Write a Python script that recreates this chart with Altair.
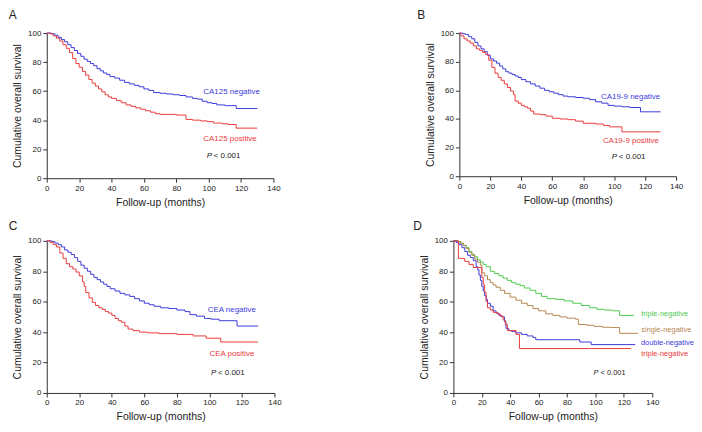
import altair as alt
import pandas as pd

# ---------------- data ----------------
# Panel A: CA125
A_neg_t = [0,3,5,7,9,11,13,15,17,19,21,23,25,27,29,31,33,35,37,39,42,45,48,51,54,57,60,63,66,70,74,78,82,86,90,93,96,99,102,105,110,117,130]
A_neg_s = [100,99.5,98.5,97,95.5,94,92,90,88,86,84,82,80.5,79,77.5,75.5,74,72.5,71.5,70,69,67.5,66,65,64,63,61.5,60.5,59,58.5,58,57.5,57,56,55,54.5,53,52,51.5,50.5,50,48,48]
A_pos_t = [0,2,4,6,8,10,12,14,16,18,20,22,24,26,28,30,32,34,36,38,40,43,46,49,52,55,58,61,64,67,70,75,80,86,90,95,99,103,108,112,117,130]
A_pos_s = [100,99.5,98,96.5,94.5,92,89.5,86.5,82.5,79,76.5,73.5,71,68,65.5,63.5,61.5,59.5,57.5,56,55,53.5,52,50.5,49.5,48.5,47.5,46.5,45.5,44.5,44,44,43.5,40.5,40,39.5,39,38,37.5,37,34.5,34.5]

# Panel B: CA19-9
B_neg_t = [0,2,4,6,8,10,12,14,16,18,20,22,24,26,28,30,32,34,36,38,40,43,46,49,52,55,58,61,64,67,70,75,80,84,88,92,96,100,105,110,117,130]
B_neg_s = [100,99.5,99,97.5,96,93.5,91,89,87,84.5,82,80.5,79,77,75,73,72,71,70,69,67.5,66,64.5,63,61.5,60,59,58,57,56,55.5,55,54.5,53.5,52,51,49.5,49,48.5,48,45,45]
B_pos_t = [0,1,3,5,7,9,11,13,15,17,19,21,23,25,27,29,31,33,35,36,38,40,42,44,46,48,52,56,60,65,70,75,80,88,93,97,105,130]
B_pos_s = [100,98,96,94.5,93,91,89,88,86.5,85,81,76,72,69,67,64.5,62,59.5,57,52.5,51,49.5,48.5,47.5,45.5,43.5,43,42,40.5,40,39.5,38.5,37,36.5,35.5,34.5,31,31]

# Panel C: CEA
C_neg_t = [0,3,5,7,9,11,13,15,17,19,21,23,25,27,29,31,33,35,37,39,42,45,48,51,54,57,60,63,66,70,75,80,85,88,92,97,101,106,112,117,130]
C_neg_s = [100,99.5,98.5,97.5,96,94,92.5,91,89,86.5,84,82,80,78,76,74.5,73,71.5,70,68.5,67,65.5,64.5,63.5,62,60.5,59,58,57,56,55.5,54.5,53.5,51.5,50.5,49,48.5,47.5,47.5,44,44]
C_pos_t = [0,2,4,6,8,10,12,14,16,18,20,22,23,24,26,28,30,32,34,36,38,40,42,44,46,48,50,53,57,62,69,80,90,98,107,130]
C_pos_s = [100,99,97.5,96,92,88.5,85,83,81.5,79.5,77,73,70,66,62.5,59.5,57.5,56,55,53.5,52.5,51,49,47.5,46.5,44,42,41,40,39.5,39,38.5,37.5,36,33.5,33.5]

# Panel D: combined
D_g_t = [0,3,5,7,9,11,13,15,17,19,21,23,26,29,32,35,38,41,44,47,50,54,58,62,66,72,78,84,90,96,101,106,112,117,127]
D_g_s = [100,99.5,98.5,97,95.5,93,91,89.5,87.5,86,84.5,83,80,78.5,77,75.5,74,72.5,71.5,70.5,69,67.5,65.5,63.5,62,61.5,60.5,59,57.5,56,55,54.5,54,51,51]
D_b_t = [0,3,5,7,9,11,13,15,17,19,20,22,24,26,28,30,33,36,40,44,48,52,56,60,65,70,75,80,86,88,94,99,105,111,117,130]
D_b_s = [100,99.5,98.5,97,95,92.5,90.5,88,86,84,79,77,74.5,72.5,71,69.5,67.5,65.5,63,61,59,57.5,55.5,54,52,51,50,49.2,48.5,45,44.5,43.8,43.2,43,39.2,39.2]
D_bl_t = [0,2,4,6,8,10,12,14,16,17,18,19,20,21,22,23,24,26,28,30,32,34,36,37,39,41,44,48,52,56,58,70,89,97,128]
D_bl_s = [100,99,97.5,95.5,93,90.5,89,87,83,81,77.5,74,70,67,64,61.5,59,57,54,52.5,51,50,47,42.5,41,40.5,39.5,38.5,37.5,36.5,35,35,33.5,31.8,31.8]
D_r_t = [0,3.5,8,11,14,20,21,22,23,24,26,28,31,33,35,36.5,38,44,46.5,125]
D_r_s = [100,88.5,86.5,84.5,82.5,76,71,66,60,56,54.5,53,52,50.5,48,45,41,38.5,29.2,29.2]

BLUE, RED, GREEN, BROWN = "#3b3bdc", "#ec3b3b", "#4fcb4f", "#b58753"

# labels: text, x (months), y (%), colour
A_lab = [("CA125 negative", 96.7, 59.1, BLUE), ("CA125 positive", 96.7, 26.9, RED)]
B_lab = [("CA19-9 negative", 91.5, 55.0, BLUE), ("CA19-9 positive", 92.7, 24.6, RED)]
C_lab = [("CEA negative", 99.0, 54.7, BLUE), ("CEA positive", 100.0, 25.7, RED)]
D_lab = [("triple-negative", 132.3, 51.9, GREEN), ("single-negative", 132.3, 41.6, BROWN),
         ("double-negative", 132.0, 32.9, BLUE), ("triple-negative", 132.3, 25.3, RED)]
A_p = (98.8, 15.1)
B_p = (98.5, 13.5)
C_p = (101.0, 12.9)
D_p = (98.7, 12.9)

X_TICKS = [0, 20, 40, 60, 80, 100, 120, 140]
Y_TICKS = [0, 20, 40, 60, 80, 100]
FONT = "Liberation Sans"

X_ENC = alt.X("t:Q", scale=alt.Scale(domain=[0, 140], nice=False),
              axis=alt.Axis(values=X_TICKS, title="Follow-up (months)",
                            labelOverlap=False, labelFlush=False, labelBound=False))
Y_ENC = alt.Y("s:Q", scale=alt.Scale(domain=[0, 100], nice=False),
              axis=alt.Axis(values=Y_TICKS, title="Cumulative overall survival",
                            labelOverlap=False, labelFlush=False, labelBound=False))


def panel(series, labels, p_pos, letter, w, h, dx, offset, lab_size):
    rows = []
    for k, (t, s, c) in enumerate(series):
        for ti, si in zip(t, s):
            rows.append({"t": ti, "s": si, "k": k, "c": c})
    df = pd.DataFrame(rows)
    lines = alt.Chart(df).mark_line(interpolate="step-after", strokeWidth=1).encode(
        x=X_ENC, y=Y_ENC, detail="k:N", color=alt.Color("c:N", scale=None))
    ldf = pd.DataFrame(labels, columns=["txt", "t", "s", "c"])
    texts = alt.Chart(ldf).mark_text(align="left", baseline="middle", font=FONT,
                                     fontSize=lab_size).encode(
        x=X_ENC, y=Y_ENC, text="txt:N", color=alt.Color("c:N", scale=None))
    pdf = pd.DataFrame([{"t": p_pos[0], "s": p_pos[1]}])
    p1 = alt.Chart(pdf).mark_text(align="left", baseline="middle", font=FONT, fontSize=lab_size,
                                  fontStyle="italic", color="#222").encode(
        x=X_ENC, y=Y_ENC, text=alt.value("P"))
    p2 = alt.Chart(pdf).mark_text(align="left", baseline="middle", font=FONT, fontSize=lab_size,
                                  dx=7, color="#222").encode(
        x=X_ENC, y=Y_ENC, text=alt.value("< 0.001"))
    return alt.layer(lines, texts, p1, p2).properties(
        width=w, height=h,
        title=alt.TitleParams(letter, anchor="start", frame="bounds", dx=dx, offset=offset,
                              fontSize=12, fontWeight="normal", font=FONT, color="#222"))


A = panel([(A_neg_t, A_neg_s, BLUE), (A_pos_t, A_pos_s, RED)], A_lab, A_p, "A", 228, 146, -4, 7, 8)
B = panel([(B_neg_t, B_neg_s, BLUE), (B_pos_t, B_pos_s, RED)], B_lab, B_p, "B", 218, 144, -8, 7, 8)
C = panel([(C_neg_t, C_neg_s, BLUE), (C_pos_t, C_pos_s, RED)], C_lab, C_p, "C", 229, 153, -4, 4, 8)
D = panel([(D_g_t, D_g_s, GREEN), (D_b_t, D_b_s, BROWN), (D_bl_t, D_bl_s, BLUE), (D_r_t, D_r_s, RED)],
          D_lab, D_p, "D", 200, 153, -6, 4, 7.5)

chart = alt.vconcat(
    alt.hconcat(A, B, spacing=137),
    alt.hconcat(C, D, spacing=132),
    spacing=12,
).properties(
    padding={"left": 0, "top": 0, "right": 0, "bottom": 0}
).configure_view(stroke=None).configure_axis(
    grid=False, domainColor="#333", domainWidth=1, tickColor="#333", tickSize=4, tickWidth=1,
    labelFont=FONT, labelFontSize=8, labelColor="#222", labelPadding=2,
    titleFont=FONT, titleFontSize=10.5, titleFontWeight="normal", titleColor="#222", titlePadding=5,
)

chart.save("out.html", embed_options={"renderer": "svg", "actions": False})
